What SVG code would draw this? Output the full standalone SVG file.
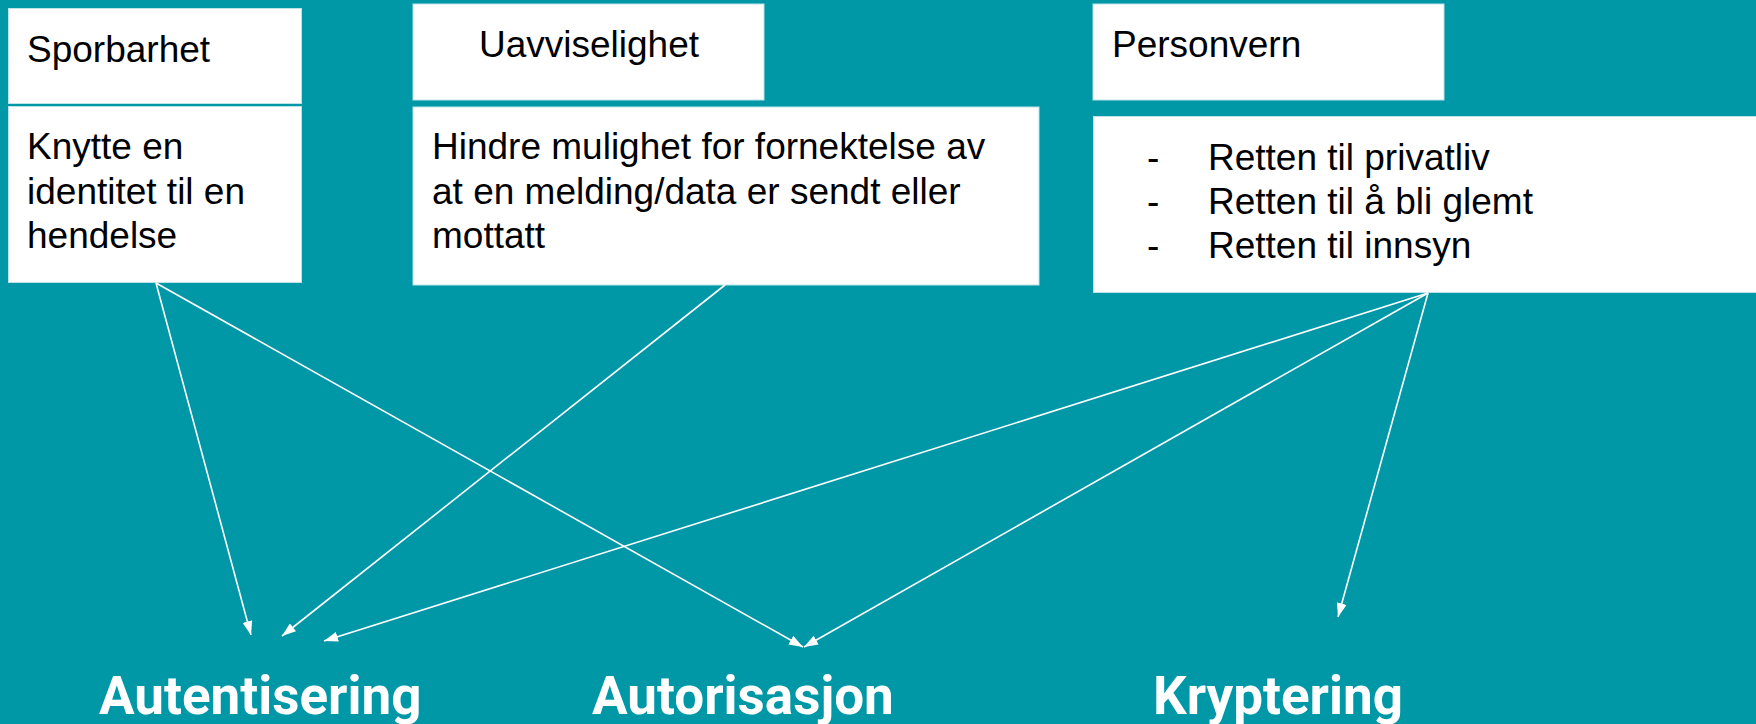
<svg xmlns="http://www.w3.org/2000/svg" width="1756" height="724" viewBox="0 0 1756 724">
<style>
.box{fill:#ffffff;stroke:#b9e3e8;stroke-width:1}
.t{font-family:"Liberation Sans",Arial,sans-serif;font-size:37px;fill:#000000}
.big{font-family:Roboto,"Liberation Sans",sans-serif;font-weight:bold;font-size:53px;fill:#ffffff}
.c{stroke:#ffffff;stroke-width:1.6;fill:none;marker-end:url(#ah)}
</style>
<defs>
<marker id="ah" markerUnits="userSpaceOnUse" markerWidth="15" markerHeight="10" refX="14" refY="5" orient="auto">
<path d="M0,0 L14,5 L0,10 z" fill="#ffffff"/>
</marker>
</defs>
<rect x="0" y="0" width="1756" height="724" fill="#0097a7"/>
<g id="sporbarhet">
<rect class="box" x="8.5" y="8.5" width="293" height="95"/>
<text class="t" x="27" y="62">Sporbarhet</text>
</g>
<g id="sporbarhet-desc">
<rect class="box" x="8.5" y="106.5" width="293" height="176"/>
<text class="t" x="27" y="159">Knytte en</text>
<text class="t" x="27" y="204">identitet til en</text>
<text class="t" x="27" y="248">hendelse</text>
</g>
<g id="uavviselighet">
<rect class="box" x="413" y="4" width="351" height="96" stroke="none"/>
<text class="t" x="479" y="57">Uavviselighet</text>
</g>
<g id="uavviselighet-desc">
<rect class="box" x="413" y="107" width="626" height="178" stroke="none"/>
<text class="t" x="432" y="159">Hindre mulighet for fornektelse av</text>
<text class="t" x="432" y="204">at en melding/data er sendt eller</text>
<text class="t" x="432" y="248">mottatt</text>
</g>
<g id="personvern">
<rect class="box" x="1093" y="4" width="351" height="96" stroke="none"/>
<text class="t" x="1112" y="57">Personvern</text>
</g>
<g id="personvern-desc">
<rect class="box" x="1093.5" y="116.5" width="663" height="176"/>
<text class="t" x="1147" y="170">-</text>
<text class="t" x="1208" y="170">Retten til privatliv</text>
<text class="t" x="1147" y="214">-</text>
<text class="t" x="1208" y="214">Retten til å bli glemt</text>
<text class="t" x="1147" y="258">-</text>
<text class="t" x="1208" y="258">Retten til innsyn</text>
</g>
<g id="connectors">
<line class="c" x1="156" y1="283" x2="251" y2="635"/>
<line class="c" x1="156" y1="283" x2="803" y2="647"/>
<line class="c" x1="725" y1="285" x2="282" y2="636"/>
<line class="c" x1="1428" y1="293" x2="324" y2="641"/>
<line class="c" x1="1428" y1="293" x2="804" y2="647"/>
<line class="c" x1="1428" y1="293" x2="1338" y2="617"/>
</g>
<g id="autentisering"><text class="big" x="99" y="714">Autentisering</text></g>
<g id="autorisasjon"><text class="big" x="592" y="714">Autorisasjon</text></g>
<g id="kryptering"><text class="big" x="1153" y="714">Kryptering</text></g>
</svg>
